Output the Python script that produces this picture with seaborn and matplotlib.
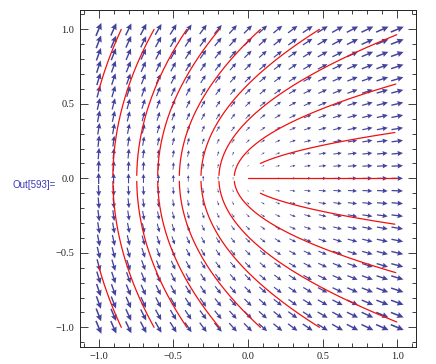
import numpy as np
import pandas as pd
import seaborn as sns
import matplotlib.pyplot as plt

# grid of arrow positions
grid_x = np.round(np.linspace(-1, 1, 21), 6) + 0.0
grid_y = np.round(np.linspace(-1, 1, 25), 6) + 0.0

# stream curves r - x = c, plus where each starts off the axis
curve_c = [2.16, 1.81, 1.49, 1.21, 0.92, 0.63, 0.39, 0.185, 0.047]
curve_y0 = [0.02, 0.02, 0.02, 0.02, 0.02, 0.02, 0.02, 0.02, 0.10]

ticks_major = [-1.0, -0.5, 0.0, 0.5, 1.0]

sns.set_style("ticks")
plt.rcParams['font.family'] = ['Liberation Serif', 'DejaVu Serif']

fig = plt.figure(figsize=(4.36, 3.64), dpi=100)
ax = fig.add_axes([0.1835, 0.0475, 0.7705, 0.925])

# vector field: direction is half the polar angle (sqrt-like field)
X, Y = np.meshgrid(grid_x, grid_y)
theta = np.arctan2(Y, X)
r = np.hypot(X, Y)
L = 0.076 * r ** 0.62
U = L * np.cos(theta / 2)
V = L * np.sin(theta / 2)
ax.quiver(X, Y, U, V, angles='xy', scale_units='xy', scale=1, pivot='middle',
          color='#43439e', width=0.0085, headwidth=4.0, headlength=4.2,
          headaxislength=3.8, minshaft=2.1, minlength=0.05, zorder=2)

# red stream curves
rows = []
k = 0
for c, y0 in zip(curve_c, curve_y0):
    for sgn in (1, -1):
        ys = np.linspace(y0, 1.0, 300)
        xs = (ys ** 2 - c ** 2) / (2 * c)
        keep = (xs >= -1.0) & (xs <= 1.0)
        for xv, yv in zip(xs[keep], ys[keep]):
            rows.append((k, xv, sgn * yv))
        k += 1
for xv in np.linspace(0.0, 1.0, 2):
    rows.append((k, xv, 0.0))
df = pd.DataFrame(rows, columns=['curve', 'x', 'y'])
sns.lineplot(data=df, x='x', y='y', units='curve', estimator=None, sort=False,
             color='#f01010', linewidth=0.9, ax=ax, zorder=3)

ax.set_xlim(-1.125, 1.125)
ax.set_ylim(-1.13, 1.13)
ax.set_xlabel('')
ax.set_ylabel('')
ax.set_xticks(ticks_major)
ax.set_yticks(ticks_major)
ax.set_xticks(np.arange(-1.1, 1.11, 0.1), minor=True)
ax.set_yticks(np.arange(-1.1, 1.11, 0.1), minor=True)
ax.set_xticklabels([f'{t:.1f}'.replace('-', '\u2212') for t in ticks_major])
ax.set_yticklabels([f'{t:.1f}'.replace('-', '\u2212') for t in ticks_major])
ax.tick_params(which='both', direction='in', top=True, right=True,
               colors='#222', labelsize=7.5, width=0.6)
ax.tick_params(which='major', length=6, pad=4)
ax.tick_params(which='minor', length=3)
for s in ax.spines.values():
    s.set_linewidth(0.7)
    s.set_color('#222')

fig.text(0.028, 1 - 185 / 364, 'Out[593]=', va='center', ha='left', fontsize=7,
         color='#3a3ab8', family='Liberation Sans')

fig.savefig('out.png', dpi=100)
